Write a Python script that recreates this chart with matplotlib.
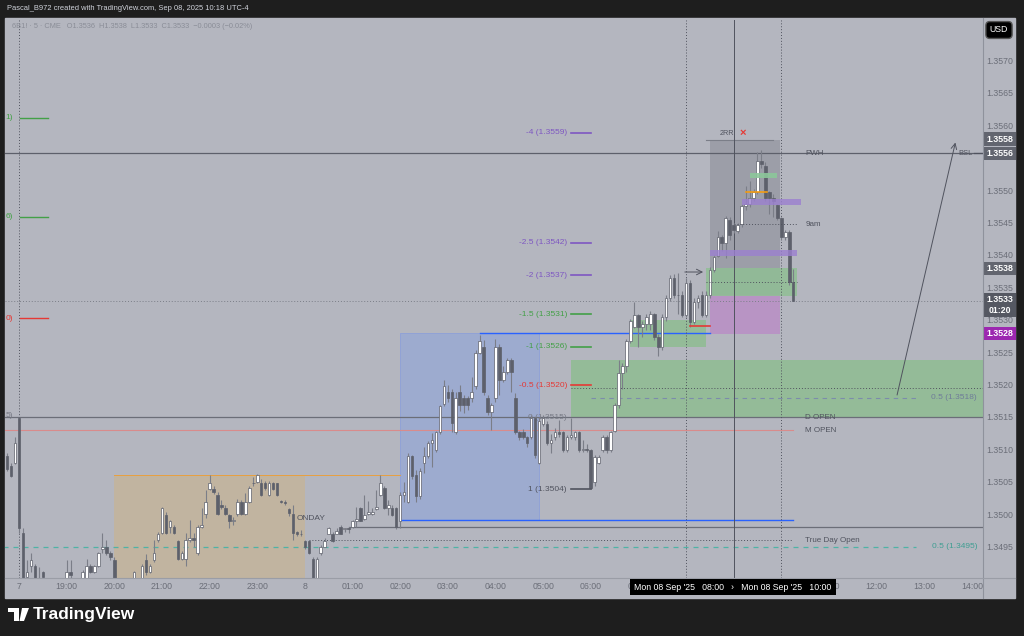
import matplotlib
matplotlib.use("Agg")
import matplotlib.pyplot as plt
from matplotlib.patches import Rectangle, Polygon

plt.rcParams['font.family'] = ['Liberation Sans', 'DejaVu Sans']

# 5-minute bars of 6B1! starting Fri close (-3) and Sun 18:00 (bar 0)
opens = [
    1.35091, 1.35076, 1.35080, 1.35150, 1.34972, 1.34905, 1.34921, 1.34921, 1.34900, 1.34912,
    1.34898, 1.34885, 1.34880, 1.34890, 1.34895, 1.34898, 1.34912, 1.34901, 1.34895, 1.34898,
    1.34902, 1.34921, 1.34912, 1.34921, 1.34948, 1.34951, 1.34941, 1.34931, 1.34900, 1.34895,
    1.34890, 1.34892, 1.34900, 1.34901, 1.34900, 1.34931, 1.34912, 1.34931, 1.34961, 1.34972,
    1.35000, 1.34981, 1.34981, 1.34960, 1.34932, 1.34932, 1.34961, 1.34965, 1.34941, 1.34981,
    1.35002, 1.35040, 1.35040, 1.35031, 1.35015, 1.35011, 1.35000, 1.34991, 1.35002, 1.35020,
    1.35002, 1.35020, 1.35049, 1.35051, 1.35049, 1.35049, 1.35031, 1.35049, 1.35049, 1.35022,
    1.35020, 1.35010, 1.35002, 1.34974, 1.34971, 1.34960, 1.34960, 1.34932, 1.34900, 1.34941,
    1.34951, 1.34971, 1.34971, 1.34971, 1.34981, 1.34978, 1.34980, 1.34981, 1.34991, 1.35011,
    1.34994, 1.35002, 1.35002, 1.35009, 1.35031, 1.35042, 1.35011, 1.35011, 1.35011, 1.34991,
    1.35031, 1.35020, 1.35091, 1.35062, 1.35030, 1.35080, 1.35091, 1.35111, 1.35100, 1.35128,
    1.35172, 1.35190, 1.35190, 1.35128, 1.35190, 1.35180, 1.35180, 1.35180, 1.35199, 1.35250,
    1.35259, 1.35180, 1.35159, 1.35180, 1.35259, 1.35208, 1.35220, 1.35239, 1.35180, 1.35128,
    1.35128, 1.35120, 1.35120, 1.35150, 1.35080, 1.35140, 1.35140, 1.35111, 1.35120, 1.35128,
    1.35128, 1.35100, 1.35120, 1.35120, 1.35128, 1.35100, 1.35102, 1.35100, 1.35051, 1.35080,
    1.35100, 1.35120, 1.35100, 1.35130, 1.35170, 1.35219, 1.35230, 1.35269, 1.35290, 1.35309,
    1.35290, 1.35295, 1.35295, 1.35310, 1.35275, 1.35260, 1.35305, 1.35335, 1.35365, 1.35340,
    1.35339, 1.35309, 1.35358, 1.35298, 1.35329, 1.35339, 1.35309, 1.35339, 1.35378, 1.35400,
    1.35429, 1.35420, 1.35455, 1.35448, 1.35438, 1.35449, 1.35477, 1.35480, 1.35489, 1.35498,
    1.35546, 1.35539, 1.35498, 1.35489, 1.35478, 1.35458, 1.35429, 1.35437, 1.35360,
]
highs = [
    1.35095, 1.35080, 1.35120, 1.35152, 1.34980, 1.34931, 1.34941, 1.34925, 1.34920, 1.34914,
    1.34901, 1.34895, 1.34892, 1.34900, 1.34901, 1.34931, 1.34931, 1.34902, 1.34901, 1.34915,
    1.34932, 1.34924, 1.34923, 1.34943, 1.34972, 1.34961, 1.34945, 1.34935, 1.34901, 1.34900,
    1.34898, 1.34900, 1.34914, 1.34902, 1.34924, 1.34940, 1.34925, 1.34961, 1.34974, 1.35013,
    1.35005, 1.34993, 1.34984, 1.34962, 1.34944, 1.34972, 1.34992, 1.34972, 1.34985, 1.35011,
    1.35039, 1.35062, 1.35045, 1.35035, 1.35023, 1.35015, 1.35002, 1.34997, 1.35024, 1.35023,
    1.35034, 1.35045, 1.35059, 1.35063, 1.35055, 1.35052, 1.35052, 1.35051, 1.35050, 1.35023,
    1.35023, 1.35011, 1.35015, 1.34975, 1.34977, 1.34961, 1.34961, 1.34935, 1.34935, 1.34953,
    1.34965, 1.34982, 1.34974, 1.34980, 1.34984, 1.34980, 1.34982, 1.34993, 1.35012, 1.35013,
    1.35031, 1.35022, 1.35011, 1.35039, 1.35062, 1.35045, 1.35023, 1.35015, 1.35013, 1.35035,
    1.35051, 1.35095, 1.35093, 1.35070, 1.35072, 1.35105, 1.35114, 1.35126, 1.35130, 1.35170,
    1.35208, 1.35200, 1.35195, 1.35190, 1.35200, 1.35185, 1.35184, 1.35213, 1.35255, 1.35278,
    1.35270, 1.35185, 1.35173, 1.35272, 1.35264, 1.35230, 1.35243, 1.35243, 1.35188, 1.35130,
    1.35132, 1.35122, 1.35155, 1.35152, 1.35152, 1.35155, 1.35145, 1.35125, 1.35135, 1.35147,
    1.35130, 1.35123, 1.35150, 1.35130, 1.35130, 1.35115, 1.35110, 1.35102, 1.35093, 1.35093,
    1.35123, 1.35123, 1.35130, 1.35173, 1.35239, 1.35235, 1.35272, 1.35302, 1.35329, 1.35310,
    1.35300, 1.35310, 1.35315, 1.35312, 1.35280, 1.35310, 1.35340, 1.35370, 1.35372, 1.35373,
    1.35345, 1.35365, 1.35363, 1.35335, 1.35340, 1.35345, 1.35345, 1.35382, 1.35402, 1.35438,
    1.35432, 1.35462, 1.35460, 1.35450, 1.35450, 1.35480, 1.35508, 1.35515, 1.35503, 1.35560,
    1.35563, 1.35545, 1.35500, 1.35495, 1.35480, 1.35460, 1.35440, 1.35440, 1.35380,
]
lows = [
    1.35068, 1.35058, 1.35078, 1.34972, 1.34890, 1.34895, 1.34912, 1.34895, 1.34890, 1.34900,
    1.34880, 1.34870, 1.34872, 1.34880, 1.34885, 1.34895, 1.34900, 1.34890, 1.34888, 1.34896,
    1.34900, 1.34910, 1.34910, 1.34920, 1.34941, 1.34938, 1.34930, 1.34900, 1.34890, 1.34885,
    1.34880, 1.34885, 1.34897, 1.34895, 1.34897, 1.34908, 1.34910, 1.34928, 1.34959, 1.34970,
    1.34970, 1.34972, 1.34970, 1.34930, 1.34930, 1.34921, 1.34958, 1.34951, 1.34938, 1.34980,
    1.34995, 1.35038, 1.35033, 1.35000, 1.35010, 1.35000, 1.34980, 1.34985, 1.34999, 1.35000,
    1.35000, 1.35018, 1.35045, 1.35049, 1.35030, 1.35039, 1.35030, 1.35038, 1.35029, 1.35018,
    1.35016, 1.34998, 1.34961, 1.34967, 1.34967, 1.34948, 1.34940, 1.34895, 1.34895, 1.34938,
    1.34950, 1.34970, 1.34959, 1.34970, 1.34970, 1.34974, 1.34972, 1.34980, 1.34982, 1.34990,
    1.34992, 1.35000, 1.35000, 1.35008, 1.35030, 1.35009, 1.35000, 1.34998, 1.34978, 1.34980,
    1.35020, 1.35018, 1.35055, 1.35020, 1.35025, 1.35065, 1.35088, 1.35074, 1.35098, 1.35125,
    1.35169, 1.35175, 1.35128, 1.35125, 1.35160, 1.35158, 1.35162, 1.35175, 1.35195, 1.35248,
    1.35185, 1.35155, 1.35131, 1.35175, 1.35185, 1.35205, 1.35218, 1.35190, 1.35125, 1.35115,
    1.35118, 1.35105, 1.35118, 1.35088, 1.35078, 1.35138, 1.35108, 1.35095, 1.35115, 1.35120,
    1.35098, 1.35098, 1.35118, 1.35115, 1.35098, 1.35098, 1.35098, 1.35040, 1.35045, 1.35078,
    1.35098, 1.35095, 1.35098, 1.35128, 1.35165, 1.35195, 1.35220, 1.35265, 1.35288, 1.35260,
    1.35275, 1.35285, 1.35285, 1.35270, 1.35245, 1.35255, 1.35300, 1.35330, 1.35335, 1.35310,
    1.35305, 1.35305, 1.35290, 1.35295, 1.35320, 1.35305, 1.35305, 1.35335, 1.35375, 1.35398,
    1.35408, 1.35397, 1.35425, 1.35435, 1.35435, 1.35445, 1.35470, 1.35475, 1.35485, 1.35495,
    1.35535, 1.35485, 1.35465, 1.35460, 1.35455, 1.35425, 1.35425, 1.35355, 1.35330,
]
closes = [
    1.35071, 1.35060, 1.35111, 1.34980, 1.34895, 1.34912, 1.34931, 1.34900, 1.34902, 1.34904,
    1.34885, 1.34880, 1.34890, 1.34895, 1.34898, 1.34912, 1.34908, 1.34895, 1.34898, 1.34912,
    1.34921, 1.34912, 1.34921, 1.34941, 1.34951, 1.34941, 1.34935, 1.34902, 1.34895, 1.34890,
    1.34892, 1.34896, 1.34912, 1.34900, 1.34921, 1.34912, 1.34921, 1.34941, 1.34971, 1.35011,
    1.34972, 1.34991, 1.34972, 1.34932, 1.34941, 1.34961, 1.34965, 1.34962, 1.34981, 1.34985,
    1.35020, 1.35049, 1.35036, 1.35002, 1.35013, 1.35002, 1.34991, 1.34992, 1.35020, 1.35002,
    1.35020, 1.35042, 1.35050, 1.35062, 1.35031, 1.35041, 1.35049, 1.35040, 1.35031, 1.35020,
    1.35019, 1.35003, 1.34972, 1.34971, 1.34970, 1.34951, 1.34941, 1.34900, 1.34932, 1.34951,
    1.34960, 1.34980, 1.34960, 1.34975, 1.34971, 1.34980, 1.34978, 1.34991, 1.34994, 1.34991,
    1.35000, 1.35005, 1.35005, 1.35013, 1.35049, 1.35011, 1.35015, 1.35000, 1.34981, 1.35031,
    1.35035, 1.35091, 1.35060, 1.35030, 1.35068, 1.35091, 1.35111, 1.35115, 1.35128, 1.35168,
    1.35199, 1.35180, 1.35142, 1.35180, 1.35170, 1.35170, 1.35170, 1.35190, 1.35250, 1.35269,
    1.35190, 1.35159, 1.35170, 1.35259, 1.35208, 1.35220, 1.35239, 1.35220, 1.35128, 1.35120,
    1.35120, 1.35111, 1.35150, 1.35092, 1.35145, 1.35150, 1.35111, 1.35115, 1.35128, 1.35125,
    1.35100, 1.35120, 1.35123, 1.35128, 1.35100, 1.35102, 1.35100, 1.35042, 1.35090, 1.35090,
    1.35120, 1.35100, 1.35128, 1.35170, 1.35219, 1.35230, 1.35269, 1.35299, 1.35309, 1.35290,
    1.35295, 1.35305, 1.35310, 1.35275, 1.35260, 1.35305, 1.35335, 1.35365, 1.35340, 1.35339,
    1.35309, 1.35358, 1.35298, 1.35329, 1.35335, 1.35309, 1.35339, 1.35378, 1.35398, 1.35429,
    1.35420, 1.35458, 1.35432, 1.35440, 1.35448, 1.35477, 1.35480, 1.35489, 1.35498, 1.35546,
    1.35542, 1.35489, 1.35489, 1.35485, 1.35458, 1.35429, 1.35437, 1.35360, 1.35330,
]
first_bar = -3

price_ticks = [1.3570, 1.3565, 1.3560, 1.3550, 1.3545, 1.3540, 1.3535, 1.3530,
               1.3525, 1.3520, 1.3515, 1.3510, 1.3505, 1.3500, 1.3495]
# hourly labels; 08:00-10:00 sit under the range box so they are left out
time_ticks = ["7", "19:00", "20:00", "21:00", "22:00", "23:00", "8", "01:00", "02:00",
              "03:00", "04:00", "05:00", "06:00", "07:00", None, None, None,
              "11:00", "12:00", "13:00", "14:00"]

# key levels
pwh = 1.35558
d_open = 1.35151
m_open = 1.35131
true_day_open = 1.34961
line_1498 = 1.34981
last_price = 1.3533
tp, entry, sl = 1.3558, 1.3538, 1.3528

fib_right = [("-4 (1.3559)", 1.3559, "#7e57c2"), ("-2.5 (1.3542)", 1.3542, "#7e57c2"),
             ("-2 (1.3537)", 1.3537, "#7e57c2"), ("-1.5 (1.3531)", 1.3531, "#43a047"),
             ("-1 (1.3526)", 1.3526, "#43a047"), ("-0.5 (1.3520)", 1.3520, "#e53935"),
             ("1 (1.3504)", 1.3504, "#50535e")]
fib_left = [("1)", 1.35613, "#43a047"), ("6)", 1.35460, "#43a047"),
            ("0)", 1.35304, "#e53935"), ("5)", 1.35153, "#787b86")]


def bar_at(hh, mm=0):
    h = hh - 18 if hh >= 18 else hh + 6
    return h * 12 + mm / 5


BG = "#b4b6bf"
DARK = "#50535e"
W, H = 1024, 636
fig = plt.figure(figsize=(W / 100, H / 100), dpi=100, facecolor="#1e1e1e")


def fx(px):
    return px / W


def fy(py):
    return 1 - py / H


fig.add_artist(Rectangle((fx(5), fy(598)), fx(1015) - fx(5), fy(18) - fy(598),
                         transform=fig.transFigure, color=BG, zorder=-1))
ax = fig.add_axes([fx(5), fy(578), (983 - 5) / W, (578 - 20) / H])
ax.set_facecolor(BG)
ax.set_xlim(-3.53, 242.8)
ax.set_ylim(1.349028, 1.357639)
ax.set_xticks([])
ax.set_yticks([])
for s in ax.spines.values():
    s.set_visible(False)
fig.add_artist(plt.Line2D([fx(983), fx(983)], [fy(598), fy(18)], color="#8f929c", lw=0.8,
                          transform=fig.transFigure))
fig.add_artist(plt.Line2D([fx(5), fx(1015)], [fy(578), fy(578)], color="#9a9da6", lw=0.8,
                          transform=fig.transFigure))

xmax = 242.8
# zones
ax.add_patch(Rectangle((bar_at(20), 1.3480), bar_at(0) - bar_at(20), 1.35062 - 1.3480,
                       fc="#c1b4a0", ec="none", zorder=1))
ax.plot([bar_at(20), bar_at(2)], [1.35062, 1.35062], color="#e8a040", lw=0.7, zorder=1.5)
ax.add_patch(Rectangle((bar_at(2), 1.34992), bar_at(4, 55) - bar_at(2), 1.35281 - 1.34992,
                       fc="#9dabcf", ec="#8da0d8", lw=0.6, zorder=1))
ax.plot([bar_at(3, 40), bar_at(8, 30)], [1.35281, 1.35281], color="#2962ff", lw=1, zorder=2)
ax.plot([bar_at(2), bar_at(10, 15)], [1.34992, 1.34992], color="#2962ff", lw=1, zorder=2)
ax.add_patch(Rectangle((bar_at(5, 35), 1.35151), xmax - bar_at(5, 35), 1.35239 - 1.35151,
                       fc="#94bb98", ec="none", zorder=1))
ax.add_patch(Rectangle((bar_at(6, 50), 1.35259), bar_at(8, 25) - bar_at(6, 50), 0.00042,
                       fc="#94bb98", ec="none", zorder=1))
# position tool
px0, px1 = bar_at(8, 30), bar_at(9, 58)
ax.add_patch(Rectangle((px0, 1.35340), px1 - px0, 1.35579 - 1.35340, fc="#9c9ea8",
                       ec="none", zorder=1))
ax.add_patch(Rectangle((px0, sl), px1 - px0, 1.35340 - sl, fc="#b894c4", ec="none", zorder=1))
ax.add_patch(Rectangle((bar_at(8, 25), 1.35338), bar_at(10, 20) - bar_at(8, 25), 0.00043,
                       fc="#90bf94", ec="none", alpha=0.85, zorder=1.2))
ax.plot([bar_at(8, 25), bar_at(9, 50)], [1.35579, 1.35579], color="#7b7e88", lw=0.8, zorder=2)
ax.add_patch(Rectangle((bar_at(9, 10), 1.35479), bar_at(10, 25) - bar_at(9, 10), 0.00009,
                       fc="#9b80d0", ec="none", alpha=0.8, zorder=4))
ax.add_patch(Rectangle((bar_at(8, 30), 1.35400), bar_at(10, 20) - bar_at(8, 30), 0.00009,
                       fc="#9b80d0", ec="none", alpha=0.8, zorder=4))
ax.add_patch(Rectangle((bar_at(9, 20), 1.35520), bar_at(9, 55) - bar_at(9, 20), 0.00008,
                       fc="#8cc79a", ec="none", alpha=0.9, zorder=4))
ax.plot([bar_at(9, 15), bar_at(9, 42)], [1.35498, 1.35498], color="#f39c12", lw=1.2, zorder=4)
ax.plot([bar_at(8, 5), bar_at(8, 30)], [1.35292, 1.35292], color="#e53935", lw=1.2, zorder=4)
ax.annotate("", xy=(bar_at(8, 25), 1.35375), xytext=(bar_at(7, 55), 1.35375),
            arrowprops=dict(arrowstyle="->", color="#50535e", lw=0.7), zorder=4)
ax.plot([bar_at(8, 25), bar_at(10, 20)], [1.35360, 1.35360], color=DARK, lw=0.7,
        ls=(0, (1, 2)), zorder=4)
ax.plot([bar_at(9), bar_at(10, 20)], [1.35449, 1.35449], color=DARK, lw=0.7,
        ls=(0, (1, 2)), zorder=4)

# horizontal levels
ax.axhline(pwh, color="#5d606b", lw=0.9, zorder=2)
ax.axhline(d_open, color="#6b6e78", lw=0.9, zorder=2)
ax.plot([-4, bar_at(10, 15)], [m_open, m_open], color="#d98b8b", lw=0.8, zorder=2)
ax.plot([bar_at(0, 55), xmax], [line_1498, line_1498], color="#6b6e78", lw=0.9, zorder=2)
ax.plot([bar_at(0, 5), bar_at(10, 15)], [true_day_open, true_day_open], color=DARK, lw=0.7,
        ls=(0, (1, 2)), zorder=2)
ax.plot([-4, bar_at(12, 50)], [1.34951, 1.34951], color="#4fb3a6", lw=0.9,
        ls=(0, (4, 4)), zorder=2)
ax.plot([bar_at(5, 35), xmax], [1.35196, 1.35196], color=DARK, lw=0.7, ls=(0, (1, 2)), zorder=2)
ax.plot([bar_at(6, 0), bar_at(12, 50)], [1.35181, 1.35181], color="#7c8cab", lw=0.8,
        ls=(0, (4, 4)), zorder=2)
ax.axhline(last_price, color="#7b7e88", lw=0.7, ls=(0, (1, 2)), zorder=2)
for vx, st in [(0, (0, (1, 2))), (bar_at(8), (0, (1, 2))), (bar_at(10), (0, (1, 2))),
               (bar_at(9), "-")]:
    ax.axvline(vx, color=DARK, lw=0.7, ls=st, zorder=2)
ax.annotate("", xy=(bar_at(13, 40), 1.35579), xytext=(bar_at(12, 25), 1.35181),
            arrowprops=dict(arrowstyle="->", color="#50535e", lw=0.7), zorder=4)

# fib labels
for txt, lvl, col in fib_right:
    ax.text(bar_at(5, 30), lvl, txt, color=col, fontsize=6, ha="right", va="center", zorder=5)
    ax.plot([bar_at(5, 35), bar_at(6, 0)], [lvl, lvl], color=col, lw=1.2, zorder=5)
ax.text(bar_at(5, 30), d_open, "0 (1.3515)", color="#787b86", fontsize=6, ha="right",
        va="center", zorder=2.5)
for txt, lvl, col in fib_left:
    ax.text(-3.4, lvl, txt, color=col, fontsize=6, ha="left", va="center", zorder=5)
    if txt != "5)":
        ax.plot([0.3, 7.3], [lvl, lvl], color=col, lw=1, zorder=5)

lab_x = bar_at(10, 30)
for txt, lvl in [("PWH", pwh), ("9am", 1.35449), ("D OPEN", d_open), ("M OPEN", m_open),
                 ("True Day Open", true_day_open)]:
    ax.text(lab_x, lvl, txt, color=DARK, fontsize=5.8, ha="left", va="center", zorder=5)
ax.text(240.3, pwh, "BSL", color=DARK, fontsize=5.5, ha="right", va="center", zorder=5)
ax.plot([240.6, xmax], [pwh, pwh], color=DARK, lw=0.9, zorder=5)
ax.text(241.3, 1.35181, "0.5 (1.3518)", color="#6f7c99", fontsize=6, ha="right", va="center")
ax.text(241.3, 1.34951, "0.5 (1.3495)", color="#3f9e92", fontsize=6, ha="right", va="center")
ax.text(bar_at(8, 43), 1.35588, "2RR", color=DARK, fontsize=5.2, ha="left", va="center")
ax.text(bar_at(9, 7), 1.35590, "\u00d7", color="#e53935", fontsize=8, ha="left", va="center",
        fontweight="bold")
ax.text(bar_at(23, 50), 1.34994, "ONDAY", color=DARK, fontsize=6, ha="left", va="center",
        zorder=2.5)

# candles
for i in range(len(opens)):
    x = first_bar + i
    o, h, l, c = opens[i], highs[i], lows[i], closes[i]
    up = c >= o
    ax.vlines(x, l, h, color="#7b7e88", lw=0.8, zorder=3)
    ax.add_patch(Rectangle((x - 0.32, min(o, c)), 0.64, max(abs(c - o), 0.000006),
                           fc="#ffffff" if up else "#5d606b", ec="#5d606b", lw=0.5, zorder=3.2))

# price axis
tr = ax.get_yaxis_transform()
for p in price_ticks:
    ax.text(1.0174, p, f"{p:.4f}", transform=tr, color="#6b6e78", fontsize=6.3, ha="center",
            va="center", clip_on=False)
for txt, lvl, col in [("1.3558", tp, "#62656f"), ("1.3556", pwh, "#62656f"),
                      ("1.3538", entry, "#62656f"), ("1.3533\n01:20", 1.35324, "#555862"),
                      ("1.3528", sl, "#9c27b0")]:
    ax.text(1.0174, lvl, txt, transform=tr, color="white", fontsize=6.3, ha="center",
            va="center", fontweight="bold", clip_on=False, linespacing=1.2,
            bbox=dict(boxstyle="square,pad=0.25", fc=col, ec="none"), zorder=6)

# time axis
trx = ax.get_xaxis_transform()
for k, lab in enumerate(time_ticks):
    if lab is None:
        continue
    ax.text(k * 12, -0.016, lab, transform=trx, color="#6b6e78", fontsize=6.3, ha="center",
            va="center", clip_on=False)
fig.text(fx(733), fy(587), "Mon 08 Sep '25   08:00   \u203a   Mon 08 Sep '25   10:00",
         color="white", fontsize=6.3, ha="center", va="center", zorder=10,
         bbox=dict(boxstyle="square,pad=0.45", fc="black", ec="none"))

# header / footer
fig.text(fx(7), fy(9), "Pascal_B972 created with TradingView.com, Sep 08, 2025 10:18 UTC-4",
         color="#d1d4dc", fontsize=5.4, ha="left", va="center")
fig.text(fx(12), fy(27), "6B1! \u00b7 5 \u00b7 CME   O1.3536  H1.3538  L1.3533  C1.3533  "
         "\u22120.0003 (\u22120.02%)", color="#8a8d97", fontsize=5.3, ha="left", va="center")
fig.text(fx(999), fy(30), "USD", color="white", fontsize=6.3, ha="center", va="center",
         bbox=dict(boxstyle="round,pad=0.45", fc="black", ec="#555"))
fig.add_artist(Polygon([(fx(8), fy(608)), (fx(19), fy(608)), (fx(19), fy(621)),
                        (fx(14), fy(621)), (fx(14), fy(612)), (fx(8), fy(612))],
                       closed=True, fc="white", ec="none", transform=fig.transFigure))
fig.add_artist(Polygon([(fx(22), fy(608)), (fx(29), fy(608)), (fx(24), fy(621)),
                        (fx(19.5), fy(621))], closed=True, fc="white", ec="none",
                       transform=fig.transFigure))
fig.text(fx(33), fy(615), "TradingView", color="white", fontsize=12.5, fontweight="bold",
         ha="left", va="center")

fig.savefig("out.png", dpi=100, facecolor=fig.get_facecolor())
